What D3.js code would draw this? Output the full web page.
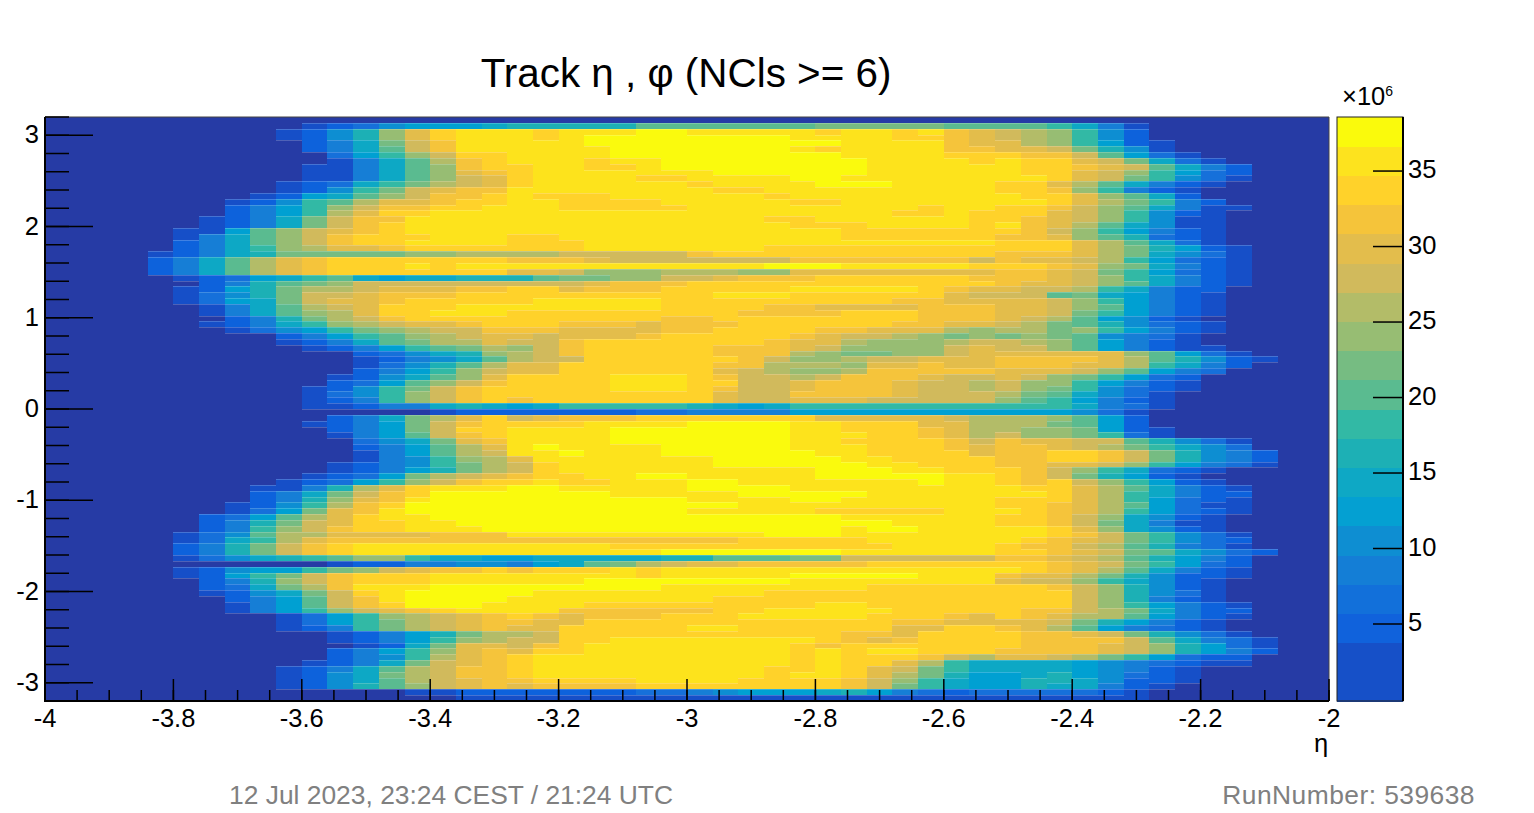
<!DOCTYPE html>
<html><head><meta charset="utf-8">
<script src="https://cdn.jsdelivr.net/npm/d3@7"></script>
<style>html,body{margin:0;padding:0;background:#fff}svg{display:block}text{font-family:"Liberation Sans",Arial,sans-serif}</style>
</head><body><div id="c"></div>
<script>
const titleText="Track η , φ (NCls >= 6)";
const footLeft="12 Jul 2023, 23:24 CEST / 21:24 UTC";
const footRight="RunNumber: 539638";
const xTicks=[-4,-3.8,-3.6,-3.4,-3.2,-3,-2.8,-2.6,-2.4,-2.2,-2];
const yTicks=[3,2,1,0,-1,-2,-3];
const zTicks=[5,10,15,20,25,30,35];
const bandColors=["#1650c8","#1650c8","#1062dc","#1270da","#147ed6","#0e8ed2","#04a0d2","#0ea8c5","#1db0b5","#32b9a5","#5abb90","#76bc82","#97bd73","#b3bc68","#d1ba5c","#e3bd4c","#f5c43a","#ffd22a","#fde31e","#fafa0c"];
const emptyColor="#253ba5";
// entries per bin in units of 1e6; one row per phi bin, top row first, trailing empty bins omitted
const counts=[
[],
[0,0,0,0,0,0,0,0,0,0,2,5,7,11,13,13,13,15,17,17,17,17,17,20,20,20,20,20,20,20,22,22,22,22,22,20,20,20,20,18,15,9,2],
[0,0,0,0,0,0,0,0,0,2,5,11,17,24,30,34,36,36,36,34,36,36,36,38,38,36,36,36,36,36,34,36,36,34,36,32,30,28,26,24,19,11,5],
[0,0,0,0,0,0,0,0,0,2,5,11,17,24,30,34,36,36,36,34,36,38,38,38,38,38,38,38,38,36,36,36,36,34,34,32,30,28,26,24,19,11,5],
[0,0,0,0,0,0,0,0,0,0,5,9,15,22,28,32,36,36,36,36,36,38,38,38,38,38,38,38,38,38,38,36,36,36,36,32,30,30,26,24,18,13,5,2],
[0,0,0,0,0,0,0,0,0,0,5,9,15,20,28,32,36,36,36,36,36,36,38,38,38,38,38,38,38,36,34,36,36,36,36,32,32,30,30,28,22,17,11,2],
[0,0,0,0,0,0,0,0,0,0,0,7,13,19,24,28,34,34,36,36,36,36,38,38,38,38,38,38,38,38,38,36,36,36,36,34,34,34,32,32,28,20,13,7,2],
[0,0,0,0,0,0,0,0,0,0,0,2,9,15,20,26,32,34,36,36,36,34,36,36,38,38,38,38,38,38,38,38,36,36,36,36,34,36,34,34,30,28,22,15,7,2],
[0,0,0,0,0,0,0,0,0,0,2,2,9,15,20,24,32,34,34,36,36,34,34,36,38,38,38,38,38,38,38,38,36,36,36,36,36,36,34,34,32,30,28,20,15,9,5],
[0,0,0,0,0,0,0,0,0,0,2,2,9,15,20,24,30,32,34,36,36,36,36,36,36,36,38,38,38,38,38,38,36,36,36,36,36,36,34,34,30,28,24,19,13,7,5],
[0,0,0,0,0,0,0,0,0,0,2,2,9,15,20,24,28,30,34,36,36,36,36,34,34,36,36,36,36,38,38,36,36,36,36,36,36,36,36,34,30,28,22,18,11,7,2],
[0,0,0,0,0,0,0,0,0,2,5,7,15,19,22,26,28,30,34,36,36,36,36,36,36,34,36,36,36,36,38,38,38,36,36,36,36,34,34,30,26,20,15,9,5,2],
[0,0,0,0,0,0,0,0,0,2,5,11,18,22,28,30,32,32,36,36,36,36,36,36,36,36,34,34,36,36,36,36,36,36,36,36,36,34,34,32,24,19,9,5,2],
[0,0,0,0,0,0,0,0,2,5,13,15,20,24,28,32,32,34,36,34,34,34,36,36,36,36,36,36,34,36,36,36,36,36,36,36,36,36,34,34,30,24,20,15,5],
[0,0,0,0,0,0,0,2,5,11,18,20,26,30,30,32,34,34,36,36,34,34,34,34,36,36,36,36,36,34,34,36,36,36,36,36,36,36,36,34,30,26,22,18,9,5],
[0,0,0,0,0,0,0,5,9,13,19,24,28,32,32,34,34,36,36,36,34,34,34,34,34,36,36,36,36,36,36,36,36,36,34,36,36,34,34,32,28,24,20,15,9,2,2],
[0,0,0,0,0,0,0,5,9,13,18,26,30,34,34,36,36,36,36,36,36,36,36,36,36,36,36,36,36,36,36,36,36,34,34,36,34,34,34,30,28,24,19,11,5,2],
[0,0,0,0,0,0,2,5,9,15,22,28,32,32,36,36,36,36,36,36,36,36,36,36,36,36,36,36,34,34,36,36,36,36,36,36,34,34,32,30,28,24,19,11,2,2],
[0,0,0,0,0,0,2,5,9,15,22,28,32,34,36,36,36,36,36,36,36,36,36,36,36,36,36,36,36,34,34,34,36,36,36,36,34,36,32,30,26,20,15,11,2,2],
[0,0,0,0,0,2,2,13,20,24,28,30,32,34,36,36,36,36,36,36,36,36,36,36,36,36,36,36,36,36,36,34,34,34,34,34,34,34,32,28,24,19,13,9,5,2],
[0,0,0,0,0,2,9,15,20,24,28,32,34,34,34,36,36,36,34,34,36,36,36,36,36,36,36,36,36,36,36,34,34,34,34,34,34,32,32,30,24,20,17,7,5,2],
[0,0,0,0,0,5,9,15,20,24,28,32,34,34,36,36,36,36,34,34,34,36,36,36,36,36,36,36,36,36,36,36,36,36,36,36,36,34,34,34,30,26,20,15,7,2],
[0,0,0,0,0,5,9,15,18,24,26,30,30,32,34,34,34,34,34,34,34,36,36,36,36,36,36,36,34,34,34,34,34,34,34,34,34,34,34,34,30,26,22,17,13,5,2],
[0,0,0,0,2,5,9,15,17,22,22,22,22,22,24,24,26,26,26,26,28,28,28,28,28,32,34,34,34,34,34,34,34,34,34,34,34,32,32,32,30,26,22,15,11,7,2],
[0,0,0,0,5,9,15,20,26,30,32,34,34,34,34,34,34,34,32,32,32,30,28,28,28,28,28,28,28,32,32,32,32,32,32,32,28,32,30,30,28,26,19,13,7,5,2],
[0,0,0,0,5,9,15,20,26,30,32,34,34,34,36,34,36,36,36,36,36,36,36,36,36,36,36,36,38,38,38,36,36,36,36,36,34,34,34,32,30,24,22,15,9,5,2],
[0,0,0,0,5,9,15,20,26,30,32,34,34,34,34,34,34,34,30,30,28,24,24,24,26,26,26,24,24,30,30,30,30,30,30,30,30,32,32,30,28,22,19,13,7,5,2],
[0,0,0,0,0,2,5,7,13,15,19,20,15,13,15,15,17,17,17,20,22,22,24,24,28,28,30,32,32,32,34,34,34,34,34,34,32,32,32,30,28,24,18,15,9,5,2],
[0,0,0,0,0,0,5,9,17,20,22,24,28,28,28,28,28,28,28,28,28,30,32,32,32,34,34,34,34,34,34,34,34,34,34,34,34,32,30,30,28,24,20,15,9,5,2],
[0,0,0,0,0,2,5,13,17,22,26,26,28,30,30,30,32,32,34,34,30,32,32,32,34,34,34,34,34,36,36,36,36,36,34,32,30,30,28,28,26,19,15,9,5,5],
[0,0,0,0,0,2,7,11,17,22,28,28,30,32,32,32,34,34,34,34,34,34,34,34,34,34,36,36,36,34,34,34,34,34,34,30,28,28,28,20,22,15,13,9,5,2],
[0,0,0,0,0,2,7,13,15,22,28,30,30,32,34,34,34,34,34,36,36,36,36,36,34,34,34,34,34,34,34,34,34,32,32,30,30,30,30,28,24,19,13,9,5,2],
[0,0,0,0,0,0,2,9,15,20,26,28,30,34,34,34,36,36,36,36,36,36,36,36,34,34,34,34,32,32,30,30,30,30,32,32,32,30,30,28,24,20,13,9,5,2],
[0,0,0,0,0,0,2,9,15,20,24,26,30,34,34,36,36,36,34,34,34,34,34,34,34,34,34,32,32,32,32,34,34,34,32,32,32,30,30,28,22,19,13,9,5,2],
[0,0,0,0,0,0,0,5,9,17,22,26,28,32,34,34,34,34,34,34,34,34,34,34,32,32,34,34,34,34,34,34,34,34,32,32,32,30,28,26,20,13,11,5,2],
[0,0,0,0,0,0,2,5,9,15,19,24,26,28,30,30,32,34,34,34,32,32,32,30,32,32,32,34,34,34,34,34,34,32,32,30,30,28,26,22,20,17,11,7,5,2],
[0,0,0,0,0,0,0,2,7,11,13,19,22,24,26,28,28,32,32,32,30,30,30,30,32,32,34,34,34,34,32,32,30,30,30,26,24,26,26,22,24,19,13,9,5,2],
[0,0,0,0,0,0,0,0,0,5,9,13,18,20,24,26,28,30,30,28,30,30,30,32,34,34,34,34,34,32,30,28,28,26,24,22,24,22,24,22,20,11,9,7,2],
[0,0,0,0,0,0,0,0,0,2,5,9,15,20,22,26,26,30,28,28,32,34,34,34,34,34,34,34,32,30,30,26,24,24,24,26,28,28,26,24,20,13,9,5,2],
[0,0,0,0,0,0,0,0,0,0,2,5,9,13,18,20,22,26,24,28,32,34,34,34,34,34,32,32,32,30,28,24,24,24,24,28,30,28,28,24,20,13,9,5,2,2],
[0,0,0,0,0,0,0,0,0,0,0,0,5,7,11,15,17,24,26,28,32,34,34,34,34,34,32,32,32,26,24,22,22,24,24,28,30,30,30,30,30,30,24,20,13,7,2],
[0,0,0,0,0,0,0,0,0,0,0,0,2,5,9,11,15,20,26,28,28,34,34,34,34,34,34,32,28,24,24,26,28,28,30,30,30,32,32,32,32,30,26,20,17,11,5,2],
[0,0,0,0,0,0,0,0,0,0,0,0,2,7,11,17,20,26,30,30,34,34,34,34,34,34,32,32,26,26,26,24,30,30,32,30,30,32,32,32,30,30,26,18,15,9,5],
[0,0,0,0,0,0,0,0,0,0,0,0,5,9,13,19,24,28,30,30,34,34,34,34,34,34,30,28,26,24,24,26,32,32,32,32,32,30,30,30,28,24,20,13,9,7],
[0,0,0,0,0,0,0,0,0,0,0,2,5,11,15,20,24,30,34,34,34,34,36,36,36,34,32,28,28,26,28,32,32,32,30,28,28,30,28,24,22,19,13,7,5],
[0,0,0,0,0,0,0,0,0,0,0,5,7,13,20,24,28,32,34,34,34,34,36,36,36,34,34,28,28,30,32,32,32,30,28,28,26,28,24,24,19,13,9,5,2],
[0,0,0,0,0,0,0,0,0,0,2,5,11,18,22,28,32,34,34,34,34,34,36,36,36,34,32,28,28,30,32,32,32,30,28,28,26,28,24,22,19,11,7,5,2],
[0,0,0,0,0,0,0,0,0,0,2,7,11,19,24,28,32,34,34,34,34,34,34,34,34,34,30,28,28,32,32,32,32,30,28,28,28,26,22,20,15,11,7,2],
[0,0,0,0,0,0,0,0,0,0,2,5,9,18,24,28,32,34,32,34,34,34,34,34,34,34,30,28,28,30,30,30,28,28,28,28,28,24,20,19,13,9,5,2],
[0,0,0,0,0,0,0,0,0,0,2,2,5,9,9,15,17,15,13,15,18,18,18,18,18,17,15,13,15,18,18,18,18,18,18,18,18,19,19,18,15,9,7,2],
[0,0,0,0,0,0,0,0,0,0,0,0,0,0,0,2,5,5,5,5,5,5,5,7,7,9,9,9,9,13,13,13,13,13,13,13,13,13,13,13,11,7,2],
[0,0,0,0,0,0,0,0,0,0,0,5,9,15,22,26,30,34,28,30,32,32,32,34,34,34,34,34,34,34,30,30,30,30,30,28,26,26,26,24,20,13,5],
[0,0,0,0,0,0,0,0,0,0,2,5,9,13,22,28,32,34,34,34,34,36,36,36,36,38,38,38,38,36,36,34,34,34,30,30,26,26,26,22,20,13,5],
[0,0,0,0,0,0,0,0,0,0,0,5,9,13,22,28,34,34,36,36,36,36,38,38,38,38,38,38,38,36,36,34,34,34,32,30,26,26,24,24,22,13,5,2],
[0,0,0,0,0,0,0,0,0,0,0,2,9,13,20,28,32,34,36,36,36,36,38,38,38,38,38,38,38,36,36,36,34,34,32,30,26,28,24,24,22,19,7,2],
[0,0,0,0,0,0,0,0,0,0,0,0,7,11,15,22,30,32,36,36,36,36,38,38,38,38,38,38,38,36,36,34,34,34,34,32,28,32,30,30,28,28,20,17,11,7,2],
[0,0,0,0,0,0,0,0,0,0,0,0,5,9,13,20,26,30,36,38,36,36,36,36,38,38,38,38,38,36,36,36,34,34,34,32,30,32,32,30,28,26,22,19,15,11,7],
[0,0,0,0,0,0,0,0,0,0,0,0,2,9,13,20,26,28,36,36,38,36,36,36,38,38,38,38,38,38,36,36,34,34,34,34,30,32,32,34,34,32,28,22,17,11,9,5],
[0,0,0,0,0,0,0,0,0,0,0,0,2,9,11,19,24,26,30,36,36,36,36,36,36,36,38,38,38,38,38,36,36,34,34,34,34,32,32,34,34,32,28,22,17,11,9,5],
[0,0,0,0,0,0,0,0,0,0,0,2,5,9,11,19,22,26,28,34,36,36,36,36,36,36,38,38,38,38,38,38,36,36,34,34,34,32,32,30,30,28,24,19,13,9,7,2],
[0,0,0,0,0,0,0,0,0,0,0,2,5,9,13,17,22,26,28,34,36,36,36,36,36,36,36,36,36,36,38,38,38,36,36,34,34,34,32,28,24,19,15,7,5,2],
[0,0,0,0,0,0,0,0,0,0,2,5,7,13,22,26,28,30,32,34,34,36,36,38,38,36,36,36,36,36,38,38,38,38,38,36,36,34,32,28,22,17,13,5,2],
[0,0,0,0,0,0,0,0,0,2,5,7,13,19,24,28,32,34,34,36,34,34,36,36,36,38,38,36,36,36,36,36,36,36,38,36,36,34,32,34,28,24,18,13,5,2],
[0,0,0,0,0,0,0,0,2,2,9,17,26,30,34,36,36,36,38,38,36,36,36,36,36,38,38,38,38,36,36,36,36,36,36,36,36,36,34,34,30,26,20,15,9,5,2],
[0,0,0,0,0,0,0,0,5,9,15,22,28,32,34,38,38,38,38,38,38,38,36,36,36,36,36,38,38,38,38,38,36,36,36,36,36,36,36,34,30,26,19,15,9,5,5],
[0,0,0,0,0,0,0,0,5,9,17,24,30,32,36,38,38,38,38,38,38,38,38,38,38,36,36,36,36,38,38,36,36,36,36,36,36,34,34,34,30,26,19,13,7,5,2],
[0,0,0,0,0,0,0,2,5,11,19,26,32,34,38,38,38,38,38,38,38,38,38,38,38,38,38,36,36,36,36,36,36,36,36,36,36,34,34,32,30,26,20,13,7,2,2],
[0,0,0,0,0,0,0,2,7,13,22,30,32,36,38,38,38,38,38,38,38,38,38,38,38,36,36,36,36,36,34,34,34,34,34,36,36,36,34,32,30,26,18,13,7,5,2],
[0,0,0,0,0,0,5,7,13,20,26,30,34,36,36,38,38,38,38,38,38,38,38,38,38,38,38,38,38,38,38,36,36,36,36,36,36,34,34,32,28,24,15,11,5,2],
[0,0,0,0,0,0,5,9,17,22,28,30,34,34,36,36,38,38,38,38,38,38,38,38,38,38,38,38,38,38,38,38,38,36,36,36,36,34,34,32,28,22,15,9,2,2],
[0,0,0,0,0,0,5,9,19,24,28,32,34,34,36,36,36,38,38,38,38,38,38,38,38,38,38,38,38,38,38,36,38,38,36,36,36,36,36,34,30,24,15,11,5,2],
[0,0,0,0,0,2,7,11,20,26,26,30,30,30,30,32,32,32,36,36,36,36,36,36,36,36,36,36,38,38,38,36,36,36,36,36,36,36,36,34,32,28,22,18,11,7,2],
[0,0,0,0,0,2,7,15,19,26,30,32,32,32,32,32,32,32,32,32,32,32,32,32,32,32,32,34,34,34,34,34,36,36,36,36,36,36,34,32,30,28,22,19,11,7,5],
[0,0,0,0,0,5,9,17,22,28,32,34,36,36,36,36,36,36,36,36,36,36,34,34,34,34,34,34,34,34,34,34,34,36,36,36,36,34,32,32,28,26,20,17,9,7,2],
[0,0,0,0,0,5,9,17,22,28,32,34,36,36,36,36,36,36,36,36,36,36,36,36,38,38,38,38,38,38,38,36,36,36,36,36,36,34,34,32,30,28,22,20,15,11,7,5],
[0,0,0,0,0,2,7,11,15,17,19,20,24,24,19,15,15,13,13,15,15,15,15,15,17,17,20,20,20,22,22,28,28,28,28,28,28,32,32,30,28,26,20,17,13,9,5],
[0,0,0,0,0,0,0,0,0,0,0,2,5,5,9,9,11,11,9,13,15,20,22,26,28,30,30,32,32,32,32,32,34,34,34,34,34,34,34,32,30,28,22,18,13,7,5],
[0,0,0,0,0,2,5,11,13,13,19,22,24,28,30,32,32,34,32,34,34,34,36,34,36,36,36,36,36,36,36,36,36,36,36,36,36,36,34,32,30,26,20,15,9,5,2],
[0,0,0,0,0,2,5,13,19,22,28,32,34,34,34,36,36,36,36,36,36,36,36,34,36,36,36,36,36,38,38,38,38,38,36,36,36,32,30,30,26,22,17,11,5,5,2],
[0,0,0,0,0,0,5,9,17,24,28,32,34,34,34,36,36,36,36,36,36,38,38,38,38,38,38,38,38,36,36,36,36,36,36,36,36,30,28,28,24,19,15,11,5,2],
[0,0,0,0,0,0,5,7,15,22,26,32,36,36,36,38,38,38,38,38,38,38,38,38,36,36,36,36,36,36,36,36,34,34,34,34,34,34,34,32,28,24,17,11,5,2],
[0,0,0,0,0,0,2,5,11,15,22,28,34,36,38,38,38,38,38,36,36,36,36,36,36,36,36,36,34,34,34,34,34,34,34,34,34,34,34,34,28,24,17,11,7,2],
[0,0,0,0,0,0,0,5,9,13,20,28,32,36,38,38,38,38,36,36,36,36,36,36,36,36,34,34,34,34,34,34,34,34,34,34,34,34,34,34,28,24,17,9,5,2],
[0,0,0,0,0,0,0,2,9,13,20,28,32,34,38,38,38,36,36,36,36,34,34,34,34,34,34,34,34,34,36,36,34,34,34,34,34,34,34,34,28,24,19,13,9,5,2],
[0,0,0,0,0,0,0,2,9,13,18,24,28,30,32,34,36,36,36,36,32,32,32,32,32,32,34,34,36,36,36,36,36,34,34,34,34,34,32,32,28,26,22,15,9,5,5],
[0,0,0,0,0,0,0,0,0,2,7,13,18,24,26,28,30,32,34,32,30,32,32,32,34,34,34,36,36,36,36,36,34,34,34,32,30,34,32,30,26,26,20,13,9,5,2],
[0,0,0,0,0,0,0,0,0,2,7,13,18,22,26,28,30,32,32,30,30,34,34,34,34,34,34,34,34,34,34,34,34,32,32,30,30,30,30,28,22,17,13,9,5,2],
[0,0,0,0,0,0,0,0,0,2,5,9,18,22,26,28,30,32,30,30,34,34,34,34,34,36,36,34,34,34,34,34,34,30,30,34,34,32,30,26,20,13,9,7,5,2],
[0,0,0,0,0,0,0,0,0,0,0,2,5,9,13,17,22,26,26,28,34,34,34,34,34,34,34,34,34,34,34,32,32,30,34,34,34,34,32,32,30,28,22,17,11,7,2],
[0,0,0,0,0,0,0,0,0,0,0,2,5,9,13,19,24,26,28,28,34,34,36,36,36,36,36,36,36,36,34,32,30,32,34,34,34,34,32,32,32,32,28,20,15,9,7,2],
[0,0,0,0,0,0,0,0,0,0,0,0,2,5,15,22,30,30,28,32,34,36,36,36,36,36,36,36,36,34,32,34,34,34,34,34,34,34,32,32,32,30,28,24,17,13,7,2],
[0,0,0,0,0,0,0,0,0,0,0,5,9,13,19,24,30,32,30,34,34,36,36,36,36,36,36,36,36,34,36,34,36,36,34,34,34,32,32,32,32,30,28,24,17,13,9,5],
[0,0,0,0,0,0,0,0,0,0,0,5,9,11,19,26,30,32,34,36,36,36,36,36,36,36,36,36,36,34,36,34,34,34,32,28,26,30,30,28,26,22,19,13,7,5,5],
[0,0,0,0,0,0,0,0,0,0,2,5,9,15,22,28,30,32,34,36,36,36,36,36,36,36,36,36,36,34,36,34,34,30,26,19,15,15,15,15,13,11,9,7,5,2,2],
[0,0,0,0,0,0,0,0,0,2,5,9,15,20,26,28,32,32,34,36,36,36,36,36,36,36,36,36,34,34,36,34,30,28,22,18,15,15,15,15,13,11,9,5,2],
[0,0,0,0,0,0,0,0,0,2,5,11,15,22,26,28,32,32,34,36,36,36,36,36,36,36,36,36,34,36,36,34,30,26,22,17,13,13,15,17,13,11,7,5,2],
[0,0,0,0,0,0,0,0,0,2,5,11,15,20,26,28,30,32,32,34,34,34,34,36,36,36,36,34,34,34,34,32,28,24,19,15,13,13,17,17,15,11,5,5,2],
[0,0,0,0,0,0,0,0,0,2,5,11,17,20,24,28,30,32,30,32,32,32,32,34,34,34,34,34,34,34,34,32,28,22,18,15,13,13,17,15,15,9,5,2],
[0,0,0,0,0,0,0,0,0,0,0,0,0,0,2,2,5,5,5,5,5,5,5,7,7,9,11,13,13,13,15,17,13,9,7,5,7,7,7,7,7,5,2],
[0,0,0,0,0,0,0,0,0,0,0,0,0,0,0,0,2,2,2,2,2,2,2,2,2,2,2,2,2,2,2,2,2,2,2,2,2,2,2,2,2,2,2]
];

const W=1534,H=813;
const svg=d3.select("#c").append("svg").attr("width",W).attr("height",H);
const defs=svg.append("defs");
defs.append("filter").attr("id","soft").attr("filterUnits","userSpaceOnUse").attr("x",45).attr("y",117).attr("width",1284).attr("height",584)
  .append("feGaussianBlur").attr("stdDeviation",0.45);
const x=d3.scaleLinear().domain([-4,-2]).range([45,1329]);
const y=d3.scaleLinear().domain([-3.2,3.2]).range([701,117]);
const z=d3.scaleLinear().domain([-0.1,38.58]).range([701,117]);
const color=d3.scaleQuantize().domain(z.domain()).range(bandColors);
const etaW=0.04,phiH=0.064;

const map=svg.append("g").attr("filter","url(#soft)");
map.append("rect").attr("x",x(-4)).attr("y",y(3.2)).attr("width",x(-2)-x(-4)).attr("height",y(-3.2)-y(3.2)).attr("fill",emptyColor);
const cells=[],seams=[];
counts.forEach((row,i)=>row.forEach((v,j)=>{if(v>0)cells.push({i,j,v});}));
counts.forEach((row,i)=>{
  if(i===counts.length-1)return;
  const next=counts[i+1];
  d3.range(50).forEach(j=>{
    const a=row[j]||0,b=next[j]||0;
    if((a>0||b>0)&&(a===0||b===0||color(a)!==color(b)))seams.push({i,j});
  });
});
map.append("g").attr("shape-rendering","crispEdges").selectAll("rect").data(cells).join("rect")
  .attr("x",d=>Math.round(x(-4+d.j*etaW)))
  .attr("y",d=>Math.round(y(3.2-d.i*phiH)))
  .attr("width",d=>Math.round(x(-4+(d.j+1)*etaW))-Math.round(x(-4+d.j*etaW)))
  .attr("height",d=>Math.round(y(3.2-(d.i+1)*phiH))-Math.round(y(3.2-d.i*phiH)))
  .attr("fill",d=>color(d.v));
map.append("g").attr("shape-rendering","crispEdges").attr("stroke","#fff").attr("stroke-opacity",0.2).selectAll("line").data(seams).join("line")
  .attr("x1",d=>Math.round(x(-4+d.j*etaW)))
  .attr("x2",d=>Math.round(x(-4+(d.j+1)*etaW)))
  .attr("y1",d=>Math.round(y(3.2-(d.i+1)*phiH))+0.5)
  .attr("y2",d=>Math.round(y(3.2-(d.i+1)*phiH))+0.5);

// frame
svg.append("path").attr("d",`M${x(-4)},${y(3.2)}H${x(-2)}V${y(-3.2)}`).attr("fill","none").attr("stroke","#444").attr("stroke-width",1);
svg.append("path").attr("d",`M${x(-4)},${y(3.2)}V${y(-3.2)}H${x(-2)}`).attr("fill","none").attr("stroke","#000").attr("stroke-width",2);

// x axis
const xMajor=d3.range(-4,-1.99,0.2), xMinor=d3.range(-4,-1.99,0.05);
const ax=svg.append("g").attr("stroke","#000").attr("stroke-width",1.5);
ax.selectAll(".m").data(xMinor).join("line").attr("x1",d=>x(d)).attr("x2",d=>x(d)).attr("y1",701).attr("y2",690);
ax.selectAll(".M").data(xMajor).join("line").attr("x1",d=>x(d)).attr("x2",d=>x(d)).attr("y1",701).attr("y2",679);
svg.append("g").selectAll("text").data(xTicks).join("text").attr("x",d=>x(d)).attr("y",727).attr("text-anchor","middle").attr("font-size",25.5).text(d=>d);
svg.append("text").attr("x",1321).attr("y",752).attr("text-anchor","middle").attr("font-size",25.5).text("η");

// y axis
const yMinor=d3.range(-3,3.21,0.2);
const ay=svg.append("g").attr("stroke","#000").attr("stroke-width",1.5);
ay.selectAll(".m").data(yMinor).join("line").attr("x1",45).attr("x2",69).attr("y1",d=>y(d)).attr("y2",d=>y(d));
ay.selectAll(".M").data(yTicks).join("line").attr("x1",45).attr("x2",93).attr("y1",d=>y(d)).attr("y2",d=>y(d));
svg.append("g").selectAll("text").data(yTicks).join("text").attr("x",39).attr("y",d=>y(d)+8).attr("text-anchor","end").attr("font-size",25.5).text(d=>d);

// colour bar
const bandW=(z.domain()[1]-z.domain()[0])/bandColors.length;
svg.append("g").attr("shape-rendering","crispEdges").selectAll("rect").data(bandColors).join("rect")
  .attr("x",1337).attr("width",66)
  .attr("y",(c,k)=>z(z.domain()[0]+(k+1)*bandW))
  .attr("height",(c,k)=>z(z.domain()[0]+k*bandW)-z(z.domain()[0]+(k+1)*bandW)+0.5)
  .attr("fill",c=>c);
svg.append("rect").attr("x",1337).attr("y",117).attr("width",66).attr("height",584).attr("fill","none").attr("stroke","#222").attr("stroke-width",1);
svg.append("line").attr("x1",1403).attr("x2",1403).attr("y1",117).attr("y2",701).attr("stroke","#000").attr("stroke-width",2);
svg.append("g").attr("stroke","#000").attr("stroke-width",1.5).selectAll("line").data(zTicks).join("line").attr("x1",1373).attr("x2",1403).attr("y1",d=>z(d)).attr("y2",d=>z(d));
svg.append("g").selectAll("text").data(zTicks).join("text").attr("x",1408).attr("y",d=>z(d)+7).attr("font-size",25.5).text(d=>d);
const ex=svg.append("text").attr("x",1342).attr("y",105).attr("font-size",25.5);
ex.append("tspan").text("×10");
ex.append("tspan").attr("dy",-9).attr("font-size",14).text("6");

// title and footer
svg.append("text").attr("x",686).attr("y",87).attr("text-anchor","middle").attr("font-size",40.4).text(titleText);
svg.append("text").attr("x",229).attr("y",804).attr("font-size",26.4).attr("fill","#808080").text(footLeft);
svg.append("text").attr("x",1475).attr("y",804).attr("text-anchor","end").attr("font-size",26.4).attr("letter-spacing",0.45).attr("fill","#808080").text(footRight);
</script></body></html>
